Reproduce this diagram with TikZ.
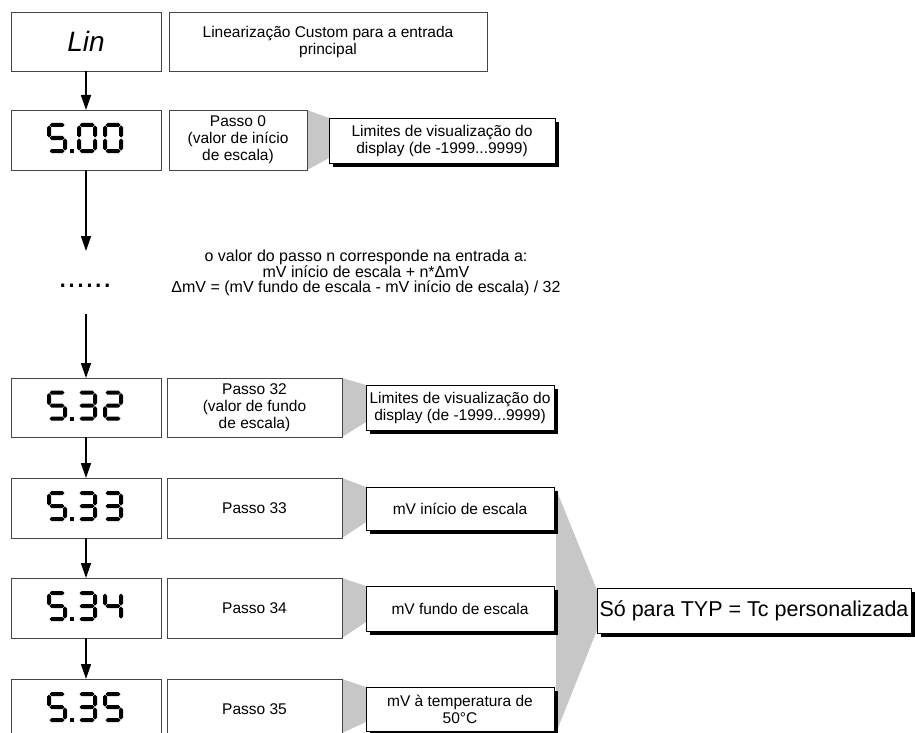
\documentclass[tikz,border=0pt]{standalone}
\usepackage{fontspec}
\setmainfont{Liberation Sans}
\usetikzlibrary{arrows.meta,calc,backgrounds,shadows}
\definecolor{callgray}{RGB}{199,199,199}
\definecolor{boxline}{RGB}{70,70,70}
% seven-segment drawing helpers (y axis points down)
\newcommand\hseg[3]{\fill ({#1},{#3}) -- ({#1+2},{#3-2}) -- ({#2-2},{#3-2}) -- ({#2},{#3}) -- ({#2-2},{#3+2}) -- ({#1+2},{#3+2}) -- cycle;}
\newcommand\vseg[3]{\fill ({#1},{#2}) -- ({#1+2},{#2+2}) -- ({#1+2},{#3-2}) -- ({#1},{#3}) -- ({#1-2},{#3-2}) -- ({#1-2},{#2+2}) -- cycle;}
\newcommand\segA[2]{\hseg{#1+2.5}{#1+17.5}{#2+2}}
\newcommand\segB[2]{\vseg{#1+18}{#2+2.5}{#2+14.5}}
\newcommand\segC[2]{\vseg{#1+18}{#2+15.5}{#2+27.5}}
\newcommand\segD[2]{\hseg{#1+2.5}{#1+17.5}{#2+28}}
\newcommand\segE[2]{\vseg{#1+2}{#2+15.5}{#2+27.5}}
\newcommand\segF[2]{\vseg{#1+2}{#2+2.5}{#2+14.5}}
\newcommand\segG[2]{\hseg{#1+2.5}{#1+17.5}{#2+15}}
\newcommand\dgZero[2]{\segA{#1}{#2}\segB{#1}{#2}\segC{#1}{#2}\segD{#1}{#2}\segE{#1}{#2}\segF{#1}{#2}}
\newcommand\dgTwo[2]{\segA{#1}{#2}\segB{#1}{#2}\segG{#1}{#2}\segE{#1}{#2}\segD{#1}{#2}}
\newcommand\dgThree[2]{\segA{#1}{#2}\segB{#1}{#2}\segG{#1}{#2}\segC{#1}{#2}\segD{#1}{#2}}
\newcommand\dgFour[2]{\segF{#1}{#2}\segG{#1}{#2}\segB{#1}{#2}\segC{#1}{#2}}
\newcommand\dgFive[2]{\segA{#1}{#2}\segF{#1}{#2}\segG{#1}{#2}\segC{#1}{#2}\segD{#1}{#2}}
\newcommand\lcd[5]{#3{#1-39}{#2-17}\fill ({#1-16},{#2+9}) rectangle ({#1-12},{#2+13});#4{#1-9}{#2-17}#5{#1+17}{#2-17}}
\begin{document}
\begin{tikzpicture}[x=1pt,y=-1pt,
  box/.style={draw=boxline,line width=0.9pt,fill=white,inner sep=0pt,outer sep=0pt,align=center,font=\fontsize{15.5}{17}\selectfont},
  dispbox/.style={box,minimum width=150,text opacity=0},
  passobox/.style={box,minimum width=175},
  shbox/.style={box,draw=black,line width=0.8pt,drop shadow={shadow xshift=4pt,shadow yshift=-4pt,fill=black,opacity=1}},
  arr/.style={line width=1.5pt,-{Triangle[length=15pt,width=10pt]}}]
\useasboundingbox (0,0) rectangle (915,733);
\clip (0,0) rectangle (915,733);

% top row
\node[box,minimum width=150,minimum height=59,font=\fontsize{28}{30}\selectfont\itshape] (lin) at (86,41.5) {Lin};
\node[box,minimum width=318,minimum height=59] (desc) at (328,41.5) {Linearização Custom para a entrada\\principal};

% step 0
\node[dispbox,minimum height=60] (d0) at (86,140) {5.00};
\lcd{86}{140}{\dgFive}{\dgZero}{\dgZero}
\node[box,minimum width=138,minimum height=60] (p0) at (238,140) {Passo 0\\(valor de início\\de escala)};
\node[shbox,minimum width=226,minimum height=45] (l0) at (442,140.5) {Limites de visualização do\\display (de -1999...9999)};

% gap
\coordinate (a1) at (86,251);
\node[font=\fontsize{32}{32}\selectfont,inner sep=0pt,anchor=base] (dots) at (85,287.5) {......};
\coordinate (a2) at (86,314);
\node[font=\fontsize{16}{15.5}\selectfont,align=center,inner sep=0pt] (note) at (366,273) {o valor do passo n corresponde na entrada a:\\mV início de escala + n*ΔmV\\ΔmV = (mV fundo de escala - mV início de escala) / 32};

% step 32
\node[dispbox,minimum height=59] (d32) at (86,407.5) {5.32};
\lcd{86}{407.5}{\dgFive}{\dgThree}{\dgTwo}
\node[passobox,minimum height=59] (p32) at (254.5,407.5) {Passo 32\\(valor de fundo\\de escala)};
\node[shbox,minimum width=188,minimum height=45] (l32) at (460,407.5) {Limites de visualização do\\display (de -1999...9999)};

% step 33
\node[dispbox,minimum height=60] (d33) at (86,508) {5.33};
\lcd{86}{508}{\dgFive}{\dgThree}{\dgThree}
\node[passobox,minimum height=60] (p33) at (254.5,508) {Passo 33};
\node[shbox,minimum width=188,minimum height=43] (m33) at (460,508.5) {mV início de escala};

% step 34
\node[dispbox,minimum height=60] (d34) at (86,608) {5.34};
\lcd{86}{608}{\dgFive}{\dgThree}{\dgFour}
\node[passobox,minimum height=60] (p34) at (254.5,608) {Passo 34};
\node[shbox,minimum width=188,minimum height=45] (m34) at (460,608.5) {mV fundo de escala};

% step 35
\node[dispbox,minimum height=60] (d35) at (86,709) {5.35};
\lcd{86}{709}{\dgFive}{\dgThree}{\dgFive}
\node[passobox,minimum height=60] (p35) at (254.5,709) {Passo 35};
\node[shbox,minimum width=188,minimum height=44] (m35) at (460,709) {mV à temperatura de\\50°C};

% custom thermocouple note
\node[shbox,minimum width=314,minimum height=45,font=\fontsize{21.5}{24}\selectfont] (so) at (754,610.5) {Só para TYP = Tc personalizada};

% arrows
\draw[arr] (lin) -- (d0);
\draw[arr] (d0) -- (a1);
\draw[arr] (a2) -- (d32);
\draw[arr] (d32) -- (d33);
\draw[arr] (d33) -- (d34);
\draw[arr] (d34) -- (d35);

% callout wedges
\begin{scope}[on background layer]
\fill[callgray] (p0.north east) -- (l0.north west) -- ($(l0.south west)+(0,-5)$) -- (p0.south east) -- cycle;
\fill[callgray] (p32.north east) -- (l32.north west) -- ($(l32.south west)+(0,-8)$) -- (p32.south east) -- cycle;
\fill[callgray] (p33.north east) -- (m33.north west) -- ($(m33.south west)+(0,-8)$) -- (p33.south east) -- cycle;
\fill[callgray] (p34.north east) -- (m34.north west) -- ($(m34.south west)+(0,-9)$) -- (p34.south east) -- cycle;
\fill[callgray] (p35.north east) -- (m35.north west) -- ($(m35.south west)+(0,-9)$) -- ($(p35.south east)+(0,-6)$) -- cycle;
\fill[callgray] ($(m33.north east)+(2,2)$) -- ($(so.north west)+(0,2)$) -- ($(so.south west)+(0,-3)$) -- ($(m35.south east)+(2,2)$) -- cycle;
\end{scope}
\end{tikzpicture}
\end{document}
